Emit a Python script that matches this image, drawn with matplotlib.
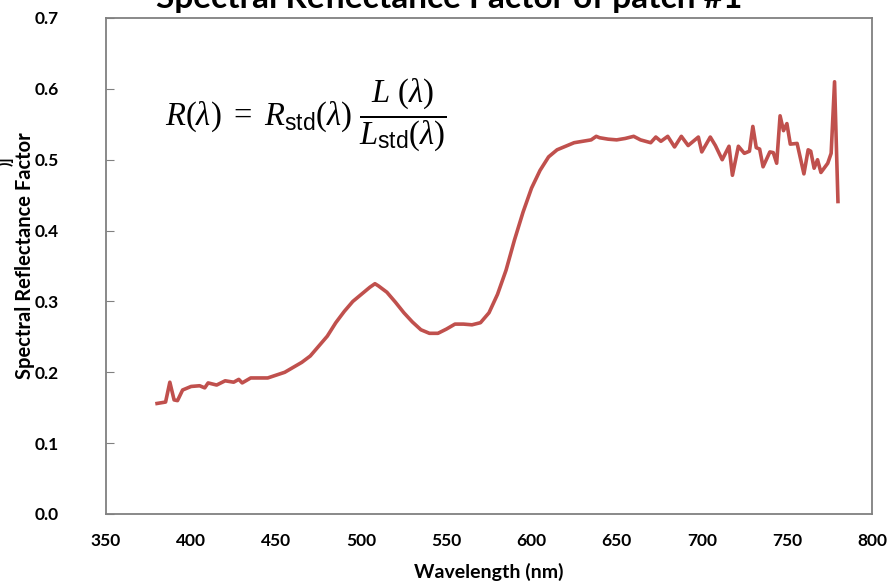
import matplotlib
matplotlib.use("Agg")
import matplotlib.pyplot as plt

# wavelength (nm) and reflectance factor
wavelength = [380, 385, 387.5, 390, 392, 395, 400, 405, 408, 410, 415, 420, 425, 428, 430,
              435, 440, 445, 450, 455, 460, 465, 470, 475, 480, 485, 490, 495, 500, 505,
              508, 510, 515, 520, 525, 530, 535, 540, 545, 550, 555, 560, 565, 570, 575,
              580, 585, 590, 595, 600, 605, 610, 615, 620, 625, 630, 635, 638, 640, 645,
              650, 655, 660, 664, 670, 673, 676, 680, 684, 688, 692, 698, 700, 705, 708,
              712, 716, 718, 721.5, 725, 728, 730, 732, 734, 736, 740, 742, 744, 746, 748,
              750, 752, 756, 760, 762.5, 764, 766, 768, 770, 774, 776, 778, 780]
reflectance = [0.156, 0.158, 0.186, 0.161, 0.160, 0.175, 0.180, 0.181, 0.178, 0.185, 0.182,
               0.188, 0.186, 0.190, 0.185, 0.192, 0.192, 0.192, 0.196, 0.200, 0.207, 0.214,
               0.223, 0.237, 0.251, 0.270, 0.286, 0.300, 0.310, 0.320, 0.325, 0.322, 0.313,
               0.299, 0.284, 0.271, 0.260, 0.255, 0.255, 0.261, 0.268, 0.268, 0.267, 0.270,
               0.284, 0.310, 0.344, 0.387, 0.426, 0.460, 0.485, 0.504, 0.514, 0.519, 0.524,
               0.526, 0.528, 0.533, 0.531, 0.529, 0.528, 0.530, 0.533, 0.528, 0.524, 0.532,
               0.526, 0.533, 0.518, 0.533, 0.520, 0.532, 0.511, 0.532, 0.520, 0.500, 0.519,
               0.478, 0.519, 0.509, 0.512, 0.547, 0.517, 0.515, 0.490, 0.511, 0.510, 0.495,
               0.562, 0.541, 0.551, 0.522, 0.523, 0.480, 0.514, 0.512, 0.488, 0.500, 0.482,
               0.495, 0.509, 0.610, 0.441]

x_ticks = [350, 400, 450, 500, 550, 600, 650, 700, 750, 800]
y_ticks = [0.0, 0.1, 0.2, 0.3, 0.4, 0.5, 0.6, 0.7]

# serif italic formula with sans "std" subscripts
plt.rcParams['mathtext.fontset'] = 'custom'
plt.rcParams['mathtext.it'] = 'Liberation Serif:italic'
plt.rcParams['mathtext.rm'] = 'Liberation Serif'
plt.rcParams['mathtext.sf'] = 'Liberation Sans'
font = ['Lato', 'DejaVu Sans']

fig = plt.figure(figsize=(8.88, 5.82), dpi=100)
ax = fig.add_axes([106 / 888, 68 / 582, 766 / 888, 496 / 582])

ax.plot(wavelength, reflectance, color='#C0504D', linewidth=2.6)

ax.set_xlim(350, 800)
ax.set_ylim(0, 0.7)
ax.set_xticks(x_ticks)
ax.set_yticks(y_ticks)
ax.set_xticklabels([str(v) for v in x_ticks], fontsize=12.5, fontweight='bold', family=font)
ax.set_yticklabels([f"{v:.1f}" for v in y_ticks], fontsize=12.5, fontweight='bold', family=font)
ax.tick_params(axis='x', length=0, pad=14)
ax.tick_params(axis='y', direction='in', length=6, color='#808080', pad=34)
for s in ax.spines.values():
    s.set_color('#808080')
    s.set_linewidth(1.3)

fig.text(489 / 888, 1 - 572 / 582, 'Wavelength (nm)', ha='center', va='center',
         fontsize=14, fontweight='bold', family=font)
fig.text(25 / 888, 1 - 256 / 582, 'Spectral Reflectance Factor', rotation=90,
         ha='center', va='center', fontsize=14.5, fontweight='bold', family=font)
# cropped fragment left of the axis title
fig.text(5 / 888, 1 - 161 / 582, ')]', rotation=90, ha='center', va='center',
         fontsize=12, fontweight='bold', family=font)

fig.text(449 / 888, 1 - 8 / 582, 'Spectral Reflectance Factor of patch #1',
         ha='center', va='baseline', fontsize=24, fontweight='bold', family=font)

ax.text(0.077, 0.805,
        r'$R(\lambda)\ =\ R_{\mathsf{std}}(\lambda)\ \dfrac{L\ (\lambda)}{L_{\mathsf{std}}(\lambda)}$',
        transform=ax.transAxes, ha='left', va='center', fontsize=23.5)

fig.savefig('out.png', dpi=100)
